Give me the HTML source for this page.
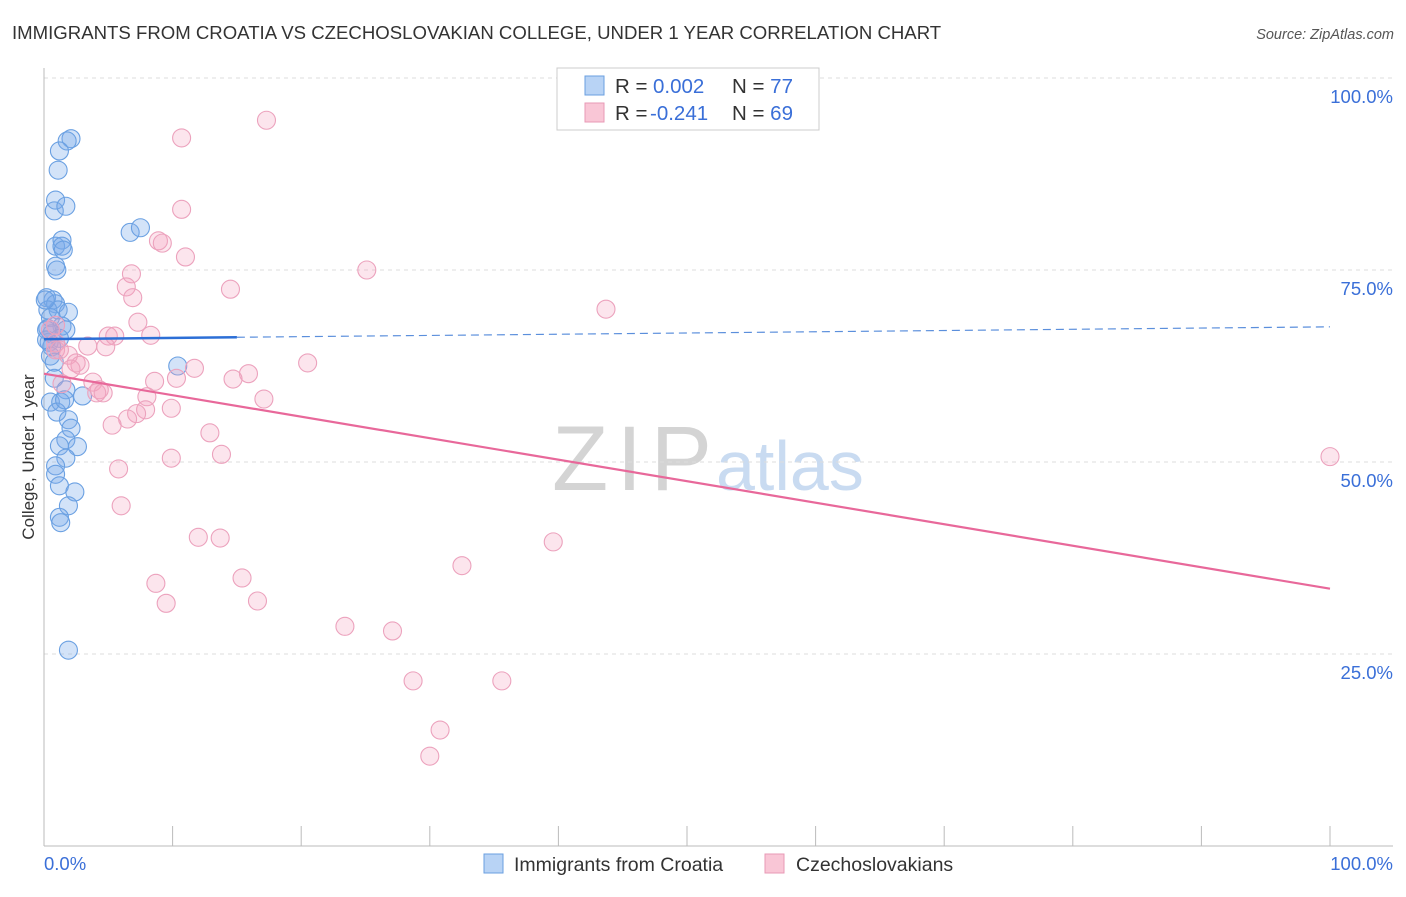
<!DOCTYPE html>
<html><head><meta charset="utf-8"><style>
body{margin:0;background:#fff;font-family:"Liberation Sans",sans-serif;}
svg text{font-family:"Liberation Sans",sans-serif;}
</style></head><body>
<svg width="1406" height="892" xmlns="http://www.w3.org/2000/svg">
<text x="12" y="39" font-size="18.6" fill="#333">IMMIGRANTS FROM CROATIA VS CZECHOSLOVAKIAN COLLEGE, UNDER 1 YEAR CORRELATION CHART</text>
<text x="1394" y="39" font-size="14.5" fill="#555" font-style="italic" text-anchor="end">Source: ZipAtlas.com</text>
<g>
<text x="552" y="490" font-size="92" fill="#d4d4d4" font-family="Liberation Serif,serif" textLength="160">ZIP</text>
<text x="716" y="490" font-size="70" fill="#c9dbf1">atlas</text>
</g>
<g id="grid"></g>
<g id="axes"></g>
<g id="marks"></g>
<text transform="translate(34,457) rotate(-90)" font-size="17" fill="#333" text-anchor="middle">College, Under 1 year</text>
<g>
<rect x="557" y="68" width="262" height="62" fill="#fff" stroke="#ccc"/>
<rect x="585" y="76" width="19" height="19" fill="#b8d3f5" stroke="#6a9fe0"/>
<rect x="585" y="103" width="19" height="19" fill="#f9c6d6" stroke="#e899b6"/>
<text x="615" y="93" font-size="20.5" fill="#333">R = <tspan x="653" fill="#3a6fd8">0.002</tspan><tspan x="732">N = </tspan><tspan fill="#3a6fd8">77</tspan></text>
<text x="615" y="120" font-size="20.5" fill="#333">R = <tspan x="650" fill="#3a6fd8">-0.241</tspan><tspan x="732">N = </tspan><tspan fill="#3a6fd8">69</tspan></text>
</g>
<g>
<rect x="484" y="854" width="19" height="19" fill="#b8d3f5" stroke="#6a9fe0"/>
<text x="514" y="871" font-size="19.5" fill="#333">Immigrants from Croatia</text>
<rect x="765" y="854" width="19" height="19" fill="#f9c6d6" stroke="#e899b6"/>
<text x="796" y="871" font-size="19.5" fill="#333">Czechoslovakians</text>
</g>
</svg>
<script>
const blueX=[2.1,1.8,1.2,1.1,0.9,0.8,1.7,6.7,7.5,0.9,1.4,1.4,1.5,0.9,1.0,0.2,0.7,0.9,0.3,1.1,1.9,0.5,1.4,1.7,0.3,0.6,1.2,0.4,0.6,10.4,0.8,1.7,0.5,1.3,1.0,3.0,1.9,2.1,1.7,1.2,2.6,1.7,0.9,0.9,1.2,2.4,1.9,1.2,1.3,1.9,0.2,0.1,0.2,0.5,0.8,1.6];
const blueY=[92.1,91.8,90.5,88.0,84.1,82.7,83.3,79.9,80.5,78.1,78.9,78.1,77.6,75.5,75.0,71.4,71.1,70.6,69.8,69.8,69.5,68.8,67.7,67.2,67.4,66.7,66.1,65.6,65.0,62.5,60.9,59.4,57.8,57.8,56.5,58.6,55.5,54.4,52.9,52.1,52.0,50.5,49.5,48.4,46.9,46.1,44.3,42.8,42.1,25.5,67.2,71.1,65.9,63.8,63.0,58.1];
const pinkX=[17.3,10.7,10.7,8.9,9.2,11.0,25.1,6.8,14.5,6.4,6.9,43.7,7.3,8.3,5.0,5.5,3.4,4.8,0.9,1.9,20.5,11.7,2.5,2.8,2.1,15.9,14.7,8.6,10.3,3.8,1.4,4.3,4.1,4.6,17.1,8.0,9.9,7.9,7.2,6.5,5.3,12.9,9.9,13.8,5.8,100,6.0,12.0,13.7,39.6,32.5,8.7,15.4,9.5,16.6,23.4,27.1,28.7,35.6,30.8,30.0,0.9,0.5,0.9,1.2];
const pinkY=[94.5,92.2,82.9,78.8,78.5,76.7,75.0,74.5,72.5,72.8,71.4,69.9,68.2,66.5,66.4,66.4,65.1,65.0,64.6,63.9,62.9,62.2,62.9,62.6,62.1,61.5,60.8,60.5,60.9,60.4,60.2,59.4,59.0,59.0,58.2,58.5,57.0,56.8,56.3,55.6,54.8,53.8,50.5,51.0,49.1,50.7,44.3,40.2,40.1,39.6,36.5,34.2,34.9,31.6,31.9,28.6,28.0,21.5,21.5,15.1,11.7,67.8,67.2,65.5,64.6];
const blueTrend=[66.0,67.6];
const pinkTrend=[61.5,33.5];
const yTicks=[25,50,75,100];
const yTickLabels=["25.0%","50.0%","75.0%","100.0%"];
const xTicks=[0,10,20,30,40,50,60,70,80,90,100];

const NS="http://www.w3.org/2000/svg";
const sx=v=>44+v*12.86, sy=v=>846-v*7.68;
function mk(tag,attrs,parent){const e=document.createElementNS(NS,tag);for(const k in attrs)e.setAttribute(k,attrs[k]);document.getElementById(parent).appendChild(e);return e;}
yTicks.forEach((t,i)=>{
 const g=mk('line',{x1:44,x2:1393,y1:sy(t),y2:sy(t),stroke:'#ddd','stroke-dasharray':'4,4'},'grid');
 
 
 const tx=mk('text',{x:1393,y:sy(t)+25,'font-size':18.5,fill:'#3a6fd8','text-anchor':'end'},'axes');
 tx.textContent=yTickLabels[i];
 
 
});
let a=mk('line',{x1:44,x2:44,y1:68,y2:846,stroke:'#bbb'},'axes');


a=mk('line',{x1:44,x2:1393,y1:846,y2:846,stroke:'#bbb'},'axes');


xTicks.forEach(t=>{
 const l=mk('line',{x1:sx(t),x2:sx(t),y1:826,y2:846,stroke:'#bbb'},'axes');
 
 
});
let t0=mk('text',{x:44,y:870,'font-size':18.5,fill:'#3a6fd8'},'axes');t0.textContent='0.0%';


let t1=mk('text',{x:1393,y:870,'font-size':18.5,fill:'#3a6fd8','text-anchor':'end'},'axes');t1.textContent='100.0%';


blueX.forEach((x,i)=>{
 const c=mk('circle',{cx:sx(x),cy:sy(blueY[i]),r:9,fill:'rgba(120,170,235,0.33)',stroke:'#6aa0e2','stroke-width':1.1},'marks');
 
 
});
pinkX.forEach((x,i)=>{
 const c=mk('circle',{cx:sx(x),cy:sy(pinkY[i]),r:9,fill:'rgba(245,160,190,0.28)',stroke:'#eca2bd','stroke-width':1.1},'marks');
 
 
});
const bAt=x=>blueTrend[0]+(blueTrend[1]-blueTrend[0])*x/100;
let l=mk('line',{x1:sx(0),y1:sy(bAt(0)),x2:sx(15),y2:sy(bAt(15)),stroke:'#2c6fd6','stroke-width':2.5},'marks');


l=mk('line',{x1:sx(15),y1:sy(bAt(15)),x2:sx(100),y2:sy(bAt(100)),stroke:'#5b8fdc','stroke-width':1.2,'stroke-dasharray':'8,5'},'marks');


l=mk('line',{x1:sx(0),y1:sy(pinkTrend[0]),x2:sx(100),y2:sy(pinkTrend[1]),stroke:'#e8689a','stroke-width':2.2},'marks');


</script>
</body></html>
